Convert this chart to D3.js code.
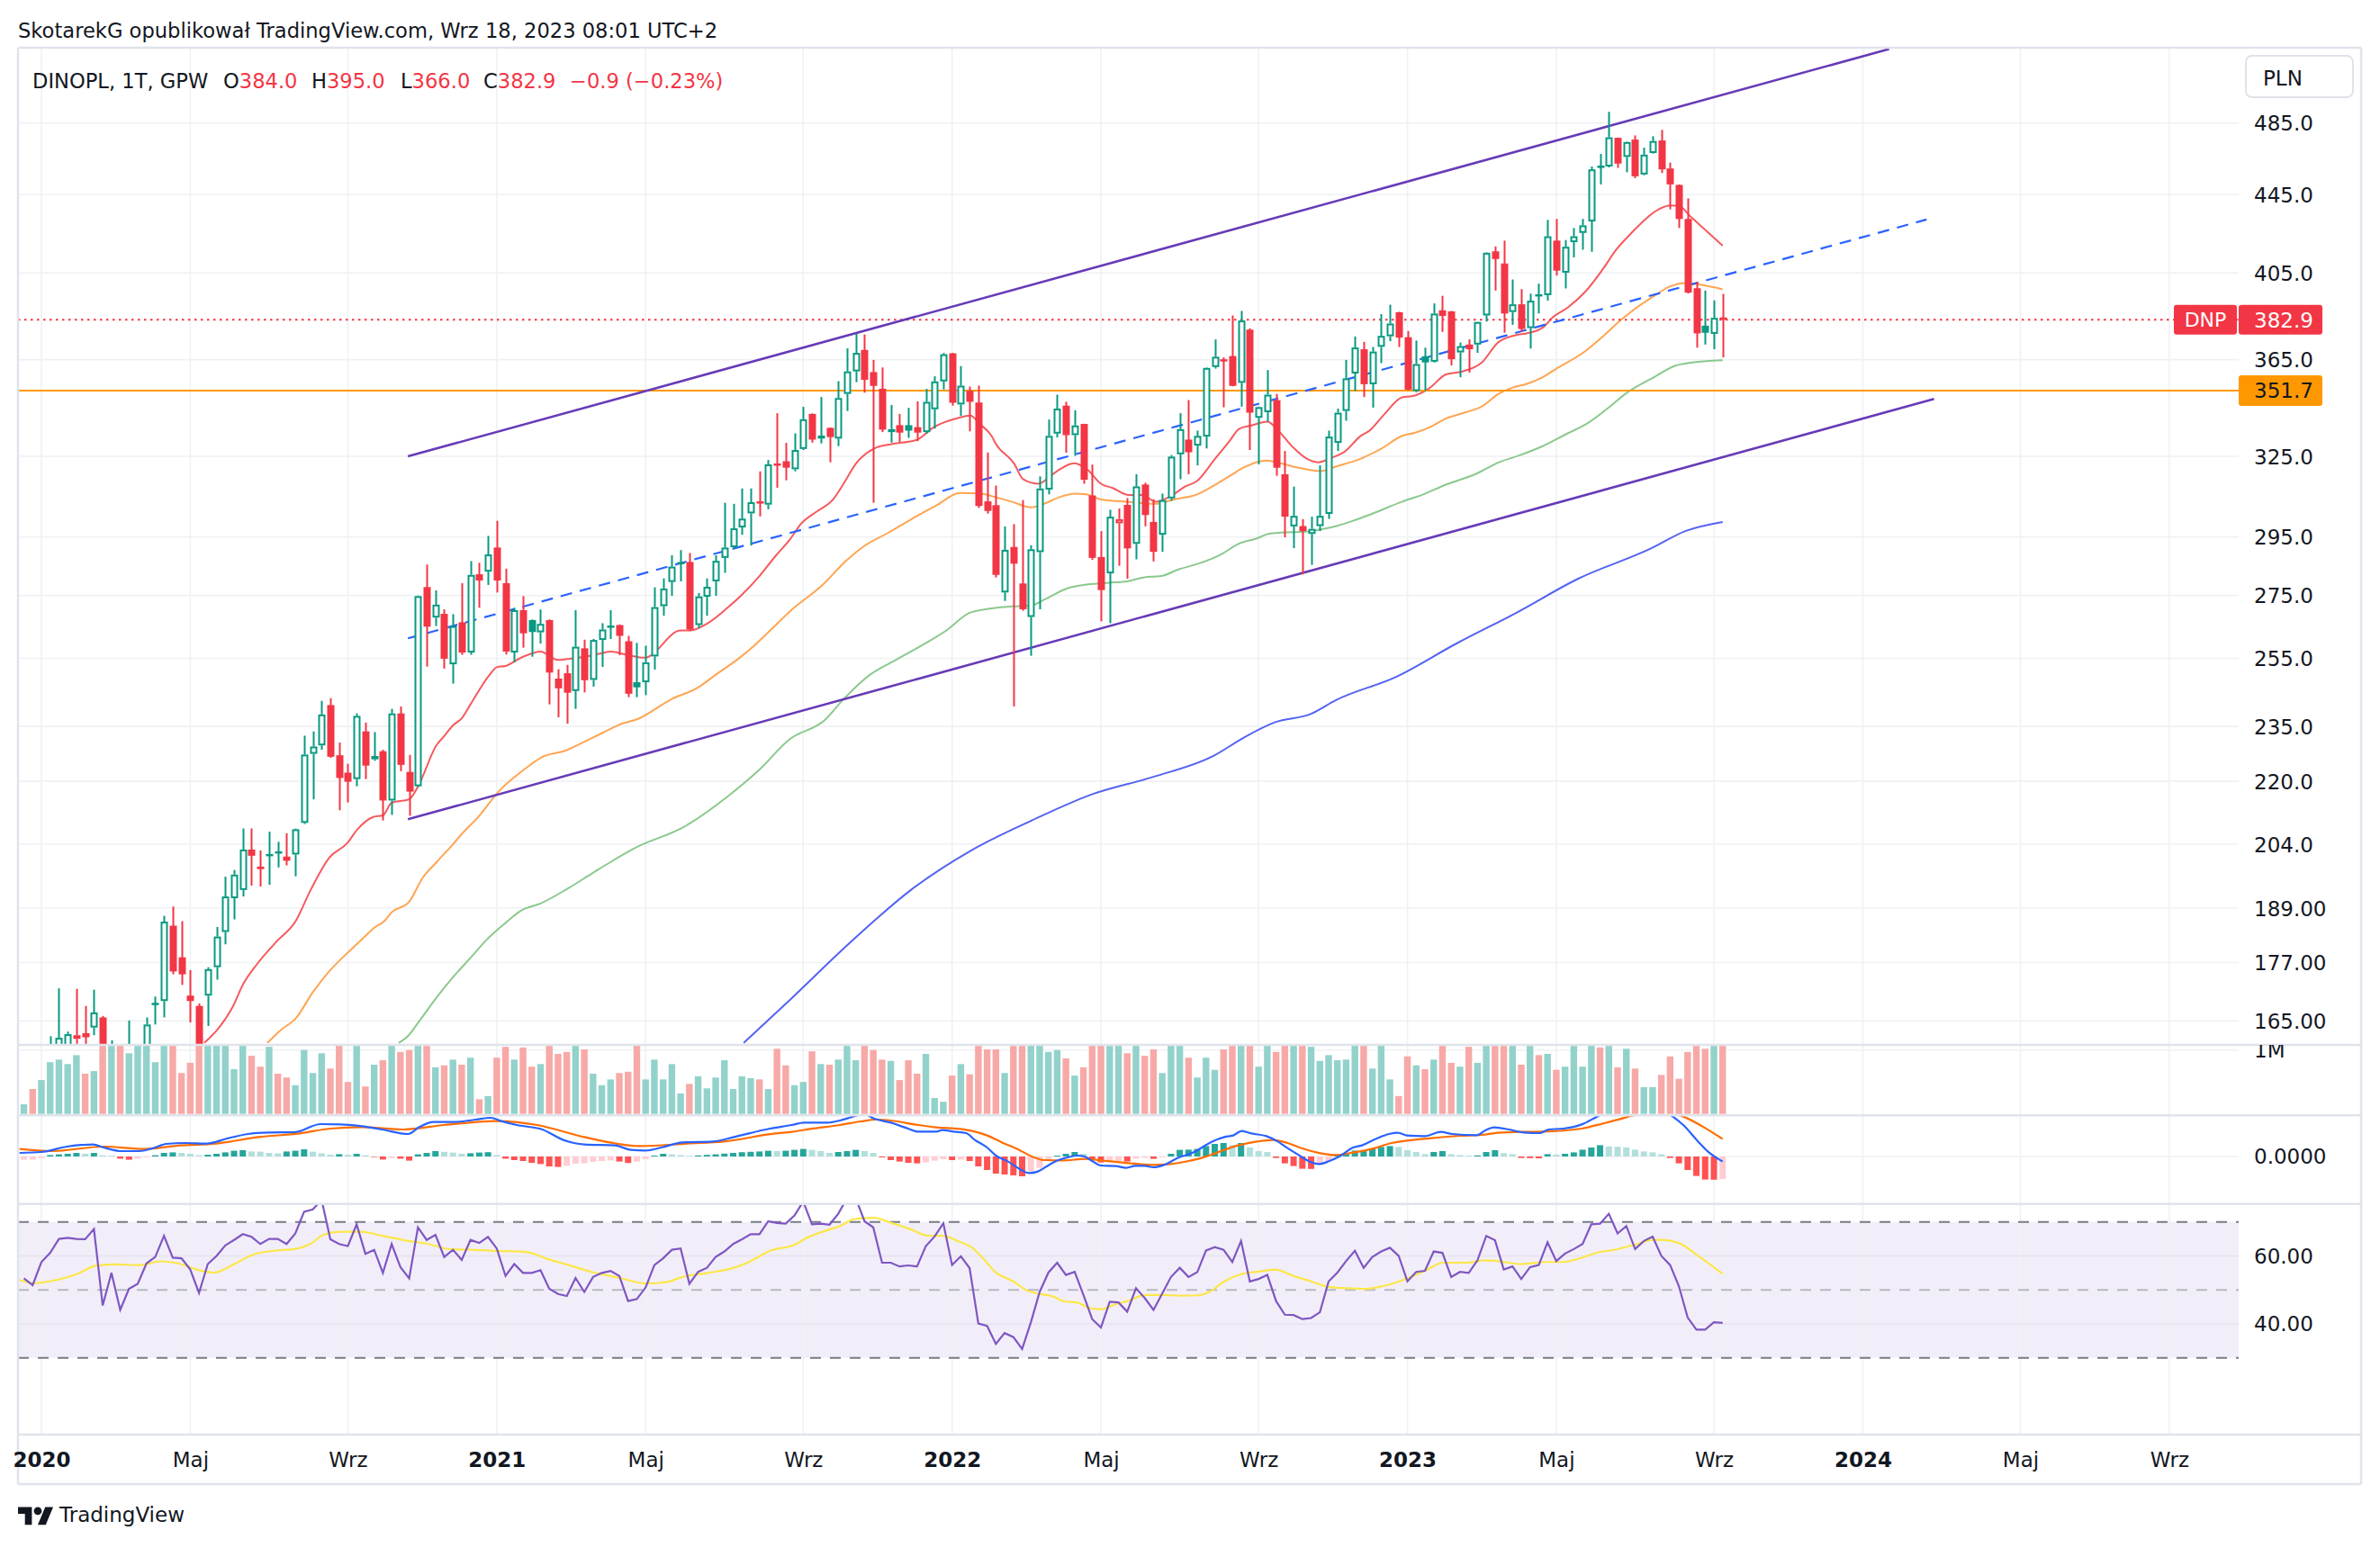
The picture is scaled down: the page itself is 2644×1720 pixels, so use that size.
<!DOCTYPE html>
<html>
<head>
<meta charset="utf-8">
<script src="https://cdn.jsdelivr.net/npm/d3@7"></script>
<style>
  html, body { margin: 0; padding: 0; background: #fff; }
  svg { display: block; font-family: "DejaVu Sans", sans-serif; }
</style>
</head>
<body>
<div id="chart"></div>
<script>
// weekly bars, first bar = week of 2019-12-23 (index -2 relative to 2020-01-06)
const firstBar = -2;

const opens = [146,149,147,153,156,158,161.5,162.6,163.7,165.7,147,155,
  138,155,157,168.2,169.0,185.0,178.1,170.1,168,170.1,
  176.0,183.6,191.2,193.1,202.7,198.6,201.1,202.2,201.0,201.5,
  209.3,227.4,229.7,241.1,227.0,222.3,220.6,233.6,225.9,228.1,
  215.0,238.7,222.5,218.7,277.8,267.8,269.0,253.2,266.3,256.8,
  282.1,283.0,291.3,279.1,256.8,270.2,267.0,263.1,267.0,248.9,
  250.5,245.2,258.1,248.5,260.7,264.6,265.4,260.3,247.8,247.8,
  255.6,271.5,279.5,285.6,286.3,265.4,274.6,279.7,287.7,291.4,
  298.4,303.5,307.8,306.7,322.0,323.1,320.0,327.9,342.0,332.0,
  336.3,332.0,350.3,359.9,369.3,359.6,352.5,334.6,337.4,337.4,
  336.6,334.6,343.9,355.6,367.8,345.9,351.6,346.7,307.9,306.5,
  276.0,291.5,279.0,268.0,289.7,312.3,334.0,345.4,333.4,337.9,
  310.1,288.0,282.4,299.9,306.6,292.6,314.2,300.4,295.8,309.0,
  325.8,331.6,329.2,332.8,361.8,365.0,366.6,355.0,378.4,340.4,
  342.7,347.7,318.1,298.8,298.9,296.1,298.9,303.3,330.3,343.2,
  359.0,369.6,354.4,370.7,375.4,386.4,375.0,351.5,366.5,364.1,
  387.3,386.8,368.2,371.7,371.7,384.9,415.7,409.7,386.5,390.1,
  379.1,394.6,394.4,421.1,405.2,420.3,425.0,430.9,460.8,460.3,
  476.4,465.6,475.4,455.9,467.8,474.9,459.2,450.2,432.2,397.7,
  380.2,376.5,384.0];

const highs = [150,151,155,162,171.6,162.9,171.5,168,171.3,166,161.2,158,
  165.1,160,165.7,169.9,187.2,189.3,186.0,175.4,168.5,176.0,
  184.7,196.2,197.8,207.9,207.9,202.5,207.1,204.6,206.7,207.9,
  232.4,233.6,242.3,243.1,230.5,224.7,238.7,236.1,233.4,228.5,
  240.0,240.7,227.1,275.0,285.4,276.7,270.5,268.9,279.1,286.6,
  286.0,295.4,300.8,284.0,271.0,274.8,267.2,270.4,267.2,251.7,
  253.0,270.2,260.8,261.0,266.0,270.2,265.6,262.0,259.8,258.9,
  277.7,280.7,288.6,290.4,289.4,275.8,280.7,288.6,307.4,307.0,
  312.7,312.7,319.2,323.6,342.3,330.3,334.1,344.9,342.2,349.0,
  336.5,355.7,370.0,376.6,376.2,364.9,361.6,345.7,342.0,344.5,
  347.2,352.4,357.8,368.0,368.0,362.2,353.4,353.8,326.5,313.8,
  298.8,299.6,308.4,292.1,317.3,339.7,350.0,347.0,343.5,338.0,
  321.8,297.1,304.8,305.3,309.1,318.1,314.9,308.7,310.8,325.5,
  342.3,347.7,335.2,361.6,374.0,366.0,384.9,387.0,379.0,345.0,
  360.5,350.3,327.1,313.4,301.4,302.3,321.5,335.2,344.2,364.9,
  375.3,372.9,370.6,385.5,389.9,386.6,377.8,373.5,370.3,390.5,
  394.1,387.0,372.6,374.0,382.0,415.2,418.2,421.1,401.9,397.3,
  395.1,399.9,431.7,432.2,421.4,427.5,432.2,460.3,467.3,491.5,
  476.6,474.3,477.8,470.8,477.3,481.0,462.4,450.5,443.0,400.8,
  396.6,391.9,395.0];

const lows = [144,145,146,151,154,156,159,159,162.2,142,143,130,
  128,148,154,164.3,165.7,174.5,172.3,164.7,157,164.0,
  173.4,180.9,186.4,191.6,194.1,193.9,194.3,198.4,198.9,196.3,
  209.0,215.3,228.5,226.3,212.5,214.5,218.7,220.6,225.5,209.9,
  211.3,222.7,211.1,218.5,252.5,265.1,251.9,247.4,256.1,256.1,
  271.0,278.5,276.0,256.2,253.8,258.3,255.5,259.6,241.3,237.6,
  235.8,240.0,244.8,246.5,252.4,261.0,256.0,243.4,243.4,244.0,
  251.6,268.4,274.9,279.7,263.5,264.5,268.4,274.9,282.6,290.8,
  295.8,292.0,302.4,305.0,313.0,315.8,319.2,327.5,330.4,330.1,
  322.7,329.0,343.2,355.3,350.8,307.4,334.6,330.4,330.6,332.3,
  331.0,334.0,336.0,352.2,345.4,341.2,334.9,305.5,303.4,281.0,
  273.2,240.7,270.0,255.8,270.5,310.5,332.5,326.4,325.2,314.5,
  287.0,266.6,266.0,285.0,280.6,287.2,298.8,286.5,289.8,308.1,
  316.2,318.1,321.5,328.1,361.1,344.7,353.5,345.0,327.5,321.9,
  338.8,317.5,294.9,291.1,282.1,285.3,297.1,301.5,327.1,339.2,
  351.5,349.0,344.6,363.5,373.2,370.6,351.8,351.0,351.5,363.8,
  377.4,362.5,357.4,359.4,368.0,382.1,396.6,377.0,380.6,377.4,
  369.9,385.8,391.8,403.8,397.6,412.7,416.5,415.5,450.5,459.8,
  459.5,457.1,453.9,455.5,467.5,456.7,437.2,427.5,395.2,370.3,
  371.7,369.6,366.0];

const closes = [148,147,153,158,161.7,162.4,162.2,161.8,166.7,147,155,140,
  155,158,164.3,168.6,185.9,175.1,174.5,169.0,158.5,175.6,
  182.6,191.6,196.7,202.7,201.2,198.0,201.6,201.8,200.0,207.7,
  227.2,229.4,238.4,226.6,220.9,219.9,238.0,224.2,226.8,215.0,
  238.7,224.4,217.3,274.8,264.9,272.0,254.9,265.1,256.8,281.9,
  280.0,288.9,280.0,257.1,270.2,262.8,263.2,265.8,250.7,246.0,
  244.7,258.6,248.4,260.7,264.0,265.2,262.0,244.4,246.3,253.8,
  271.2,277.3,284.7,286.2,264.0,274.7,277.9,286.7,291.3,298.1,
  301.6,307.6,307.2,321.9,321.6,320.6,327.5,339.8,331.6,333.2,
  332.6,348.6,359.9,368.0,356.3,353.7,335.6,335.8,334.4,335.2,
  334.4,347.0,355.6,367.4,346.6,353.8,347.0,306.2,304.4,281.9,
  290.5,285.7,270.5,290.7,312.7,333.1,344.2,333.4,337.3,316.0,
  287.7,276.8,302.3,301.4,291.0,313.5,302.9,289.8,308.4,324.9,
  335.8,326.6,333.1,361.4,366.3,364.4,353.7,382.6,342.5,344.8,
  350.0,320.6,302.3,302.6,297.1,297.9,302.6,332.8,342.5,356.9,
  370.4,354.4,368.6,375.6,381.2,374.8,352.1,363.1,363.8,385.8,
  384.7,365.2,371.0,369.6,381.9,415.0,411.9,385.8,390.1,378.7,
  391.8,394.0,423.3,406.2,418.0,423.3,428.9,458.7,459.5,476.7,
  461.9,474.0,454.9,466.9,474.6,458.7,450.5,432.2,395.6,376.7,
  377.0,383.8,382.9];

// volume in millions
const volumes = [0.15,0.39,0.53,0.81,0.85,0.78,0.92,0.63,0.67,1.5,1.4,1.3,
  0.95,1.2,1.15,0.81,1.2,1.1,0.64,0.80,1.3,1.2,
  1.1,1.1,0.70,1.1,0.91,0.74,1.05,0.63,0.57,0.45,
  1.0,0.64,0.95,0.71,1.2,0.50,1.3,0.43,0.77,0.84,
  1.2,0.97,1.0,1.6,1.4,0.73,0.76,0.85,0.77,0.88,
  0.23,0.28,0.88,1.05,0.85,1.04,0.74,0.78,1.2,0.94,
  0.97,1.1,1.01,0.63,0.45,0.54,0.64,0.66,1.1,0.54,
  0.85,0.54,0.78,0.32,0.47,0.59,0.40,0.57,0.84,0.39,
  0.59,0.56,0.54,0.39,1.02,0.76,0.45,0.50,0.98,0.78,
  0.77,0.85,1.2,0.84,1.2,1.0,0.85,0.83,0.53,0.84,
  0.63,0.94,0.25,0.19,0.60,0.78,0.62,1.4,1.01,1.01,
  0.64,1.3,1.2,1.2,1.1,0.97,1.0,0.87,0.60,0.73,
  1.2,1.1,1.2,1.1,0.95,1.1,0.91,1.01,0.64,1.1,
  1.1,0.88,0.57,0.88,0.69,1.01,1.1,1.2,1.3,0.74,
  1.1,0.97,1.1,1.1,1.1,1.05,0.83,0.92,0.84,0.85,
  1.1,1.1,0.71,1.1,0.54,0.28,0.90,0.76,0.70,0.85,
  1.1,0.80,0.74,1.05,0.80,1.2,1.1,1.1,1.1,0.77,
  1.1,0.92,0.94,0.69,0.74,1.1,0.74,1.3,1.04,1.2,
  0.73,1.02,0.71,0.42,0.42,0.61,0.90,0.55,0.97,1.1,
  1.02,1.1,1.1];

const macdHist = [-1.8,-1.8,-0.8,0.8,1.2,1.5,2.0,1.5,2.0,0.7,0.5,-1.2,
  -1.8,-1.2,-0.4,0.7,2.0,2.3,2.0,1.5,0.7,1.0,
  1.5,2.3,3.2,3.5,2.8,2.7,2.0,1.7,2.8,3.2,
  4.0,2.7,1.8,1.0,1.3,1.0,1.5,0.7,-0.3,-1.7,
  -0.8,-1.2,-2.3,1.2,2.0,3.0,2.6,2.2,1.5,1.8,
  2.2,2.4,0.8,-1.2,-2.0,-2.5,-3.5,-4.2,-5.5,-5.8,
  -5.2,-4.0,-3.8,-3.0,-2.5,-2.2,-2.8,-3.6,-2.8,-1.5,
  0.5,1.5,1.2,0.8,0.4,0.6,0.9,1.2,1.6,2.0,
  2.4,2.6,2.8,3.2,3.0,3.2,3.7,4.2,3.7,3.0,
  2.0,2.5,3.0,3.7,3.0,2.0,-0.5,-2.0,-2.8,-3.5,
  -3.8,-3.3,-2.3,-1.5,-2.0,-1.8,-2.5,-5.5,-7.5,-9.5,
  -10.0,-10.5,-11.0,-8.3,-6.3,-2.5,0.5,1.5,2.5,1.5,
  -1.8,-3.3,-2.5,-2.5,-2.8,-1.2,-0.8,-1.3,-0.5,1.5,
  3.7,3.8,4.2,5.8,7.0,7.5,6.3,7.5,5.0,3.0,
  2.5,-0.8,-3.8,-5.3,-6.8,-6.9,-4.5,-2.5,0.8,1.7,
  3.3,3.5,4.5,5.3,5.8,5.3,3.5,2.5,1.3,2.5,
  3.0,1.3,0.8,0.5,0.6,2.5,3.5,1.8,1.3,-0.8,
  -0.9,-1.0,1.3,1.0,1.5,2.3,3.8,5.0,6.3,5.6,
  5.4,5.0,3.8,2.8,2.3,1.2,-0.8,-3.8,-7.5,-10.8,
  -12.8,-12.9,-12.5];

const rsiValues = [53.4,51.4,58.2,60.9,65.0,65.3,65.0,64.9,67.9,45.4,55.0,44.1,
  50.3,51.8,57.8,59.7,65.9,59.5,59.3,56.0,49.1,57.6,
  60.0,63.1,64.7,66.4,65.6,63.5,65.0,65.0,63.5,66.6,
  73.0,73.7,76.5,64.9,63.5,62.9,69.3,60.6,61.8,55.0,
  63.5,56.7,53.4,68.4,64.7,66.2,59.7,61.8,58.8,64.7,
  63.8,65.6,62.2,54.1,57.6,55.0,55.0,55.8,50.3,48.8,
  48.2,53.5,49.4,53.8,55.0,55.6,54.1,46.7,47.3,50.7,
  57.3,59.3,61.8,62.2,51.8,55.3,56.5,59.7,61.3,63.5,
  64.9,66.4,66.4,70.2,69.7,69.5,71.9,76.0,69.3,69.5,
  69.2,72.4,77.0,77.0,70.2,68.4,58.0,58.0,56.9,57.2,
  56.9,62.9,65.7,69.6,57.3,59.9,56.4,40.1,39.4,34.1,
  37.3,36.1,32.6,40.5,49.4,55.1,58.0,54.4,55.3,48.5,
  41.4,38.9,46.5,46.3,43.6,50.5,47.6,44.1,48.9,53.8,
  56.5,53.8,55.2,61.6,62.6,61.8,58.2,64.4,52.5,53.2,
  54.4,46.7,42.7,42.6,41.4,41.7,43.4,52.5,55.1,58.5,
  61.5,56.5,59.7,61.3,62.4,60.0,52.5,55.3,55.6,61.3,
  60.9,53.8,55.3,55.0,58.7,65.9,64.6,56.0,56.9,53.2,
  56.7,57.3,64.0,58.5,60.7,62.0,63.5,69.3,69.5,72.4,
  66.6,68.8,62.0,64.4,65.7,60.0,57.3,51.1,41.9,38.3,
  38.3,40.5,40.3];

// lines read as [week index from 2020-01-06, value]
const macdLine = [[-2.5,2.0],[0,2.5],[2.9,5.5],[5.9,6.7],[7.1,5.0],[9.1,3.0],[11.2,3.0],[13,5.0],[14.2,7.0],[16.5,7.5],[18.9,7.2],[21.2,10.0],[23.6,12.5],[25.9,13.3],[28.9,13.5],[31.9,18.0],[34.2,17.8],[36,17.2],[38.9,15.0],[41.9,12.5],[43.1,16.2],[44.8,19.2],[47.2,19.2],[49.6,20.5],[51.3,21.5],[52.5,19.7],[54.3,17.5],[57.2,15.0],[59.6,9.2],[62,6.7],[65.5,6.2],[67.3,3.7],[69,3.3],[70.8,5.0],[73.2,7.8],[76.7,8.3],[79.1,10.8],[83.2,15.5],[85.7,17.5],[87.1,18.8],[89.8,18.8],[91.2,20.0],[92.6,22.0],[94.0,23.5],[95,21.2],[97,18.8],[98.8,15.8],[100.1,13.8],[102.2,13.8],[102.9,14.7],[104.2,13.8],[105.6,13.0],[106.6,9.2],[108,5.0],[109,0.5],[110.4,-2.8],[111.8,-7.2],[112.8,-9.2],[113.8,-8.3],[114.8,-5.5],[115.9,-2.5],[117.2,-0.5],[118.3,0.5],[119.1,0],[120,-2.5],[121,-5.0],[122.7,-5.3],[123.9,-6.3],[124.9,-5.2],[126,-5.2],[127,-6.0],[128.2,-4.7],[129.9,-0.5],[131.3,1.7],[132.2,4.0],[133.7,8.3],[135.1,10.8],[136.1,11.7],[137.1,14.2],[138.2,12.8],[139.9,11.3],[141.2,8.3],[142.3,4.7],[143.6,0.8],[144.7,-2.5],[145.9,-4.2],[147.1,-2.5],[148.4,0.5],[149.8,5.0],[150.8,6.2],[152.5,10.0],[153.9,12.5],[154.9,13.2],[155.9,11.7],[158,11.3],[159.8,13.7],[161.1,12.5],[163.9,11.8],[164.9,14.5],[165.9,16.2],[167.6,15.0],[169.3,13.3],[171.1,13.0],[172.1,15.0],[173.8,15.5],[175.9,17.8],[177.6,22.0],[179,25.5],[181,28],[183,28.5],[185,26],[186.3,22.2],[187.5,17.5],[189.2,8.3],[190.3,2.8],[192,-2.8]];

const signalLine = [[-2.5,4.2],[1.2,3.0],[7.1,5.5],[11.8,4.2],[15.9,6.2],[20,7.2],[24.8,10.8],[29.5,12.8],[33,15.5],[36.6,16.3],[41.3,15.0],[46,17.5],[51.9,19.7],[56.6,17.5],[62,10.8],[68.4,5.8],[73.8,7.2],[77.9,8.3],[83.8,12.8],[85.7,13.7],[87.8,15.3],[91.2,17.5],[93.6,19.5],[95.3,20.5],[97,20.0],[100.1,17.5],[102.2,16.2],[104.9,15.3],[106.3,14.2],[108,11.7],[109.7,7.8],[111.8,3.3],[113.1,0],[114.5,-2.0],[116.6,-2.2],[119.3,-1.3],[121,-2.2],[123.4,-3.3],[126.8,-4.7],[128.9,-4.2],[131,-2.5],[132.5,-0.8],[134,1.7],[136.4,5.8],[138.8,8.3],[140.6,9.2],[142.3,7.5],[144,4.5],[145.7,2.2],[147.7,0.8],[149.8,2.2],[151.9,4.2],[154.2,7.5],[156.6,9.2],[159.4,10.5],[162.1,11.5],[164.5,12.0],[166.3,13.2],[169,13.7],[171.4,13.8],[175.9,15.5],[178.3,18.3],[180.3,20.8],[181.5,22.5],[183.5,24.5],[185.5,24.5],[187.5,22.2],[189.7,16.7],[192,9.7]];

const rsiMa = [[-2.5,52.9],[-0.9,52.0],[1.7,52.9],[4.1,54.7],[6.2,57.1],[8.3,57.5],[11.2,57.3],[13.6,58.4],[15.6,57.8],[18,55.8],[19.8,55.1],[21.8,57.3],[24.2,60.4],[26.5,61.5],[28.9,62.0],[30.7,63.5],[32.2,66.2],[34.2,67.1],[36.6,67.1],[38.9,65.9],[41.9,64.4],[44.2,63.5],[46.6,62.0],[49,61.8],[51.9,61.5],[55.5,61.1],[57.8,59.1],[60.2,57.3],[63.1,55.1],[66.1,53.5],[69,51.9],[71.4,52.3],[73.2,53.8],[76.1,55.0],[79.1,56.5],[80.8,58.2],[83.2,61.5],[86.2,63.5],[87.1,64.9],[89.2,67.1],[91.2,68.8],[92.9,70.9],[95,71.2],[97.1,69.7],[99.4,67.7],[101.1,66.0],[102.9,65.9],[104.9,64.1],[106.3,62.4],[107.6,59.1],[109,55.1],[111,52.5],[112.4,50.0],[113.8,48.9],[115.5,48.1],[116.8,46.6],[118.2,46.3],[119.9,44.5],[121,44.3],[122.7,45.8],[124,46.7],[126.1,48.5],[128.1,48.5],[130.2,48.3],[132,48.4],[133.4,49.4],[135.1,52.5],[137.1,54.7],[138.8,55.3],[140.9,56.0],[142.9,54.2],[145,52.5],[147,50.9],[149.1,50.5],[151.2,50.3],[153.2,51.1],[155.3,52.7],[158,55.6],[160.1,58.0],[162.8,58.0],[164.9,58.7],[166.2,58.5],[169,57.6],[171.7,58.2],[173.8,58.2],[175.8,59.4],[177.9,61.1],[179.9,61.9],[181.3,62.9],[182,63.3],[184,64.7],[185,64.7],[187,63.8],[189.2,60.0],[192,54.7]];

// moving averages on price
const maRed = [[18.6,160.7],[20.3,163.7],[21.9,168.0],[23.0,172.3],[24.6,176.6],[26.9,181.6],[29.0,185.9],[30.8,193.3],[32.9,200.8],[34.9,204.2],[36.1,207.7],[37.9,210.8],[39.0,211.2],[40.0,214.4],[42,215.3],[43,218.6],[45.1,229.7],[46,232.3],[47,235.3],[48,237.3],[49,241.3],[51.1,249.7],[52,252.3],[53,252.7],[55,255.5],[57,257.1],[59,254.5],[60,254.8],[62,255.5],[64,256.6],[65,257.1],[67,256.0],[68.9,255.2],[73,263.7],[74.1,263.7],[76.1,266.0],[78.2,270.6],[79.9,275.0],[82,281.5],[83.9,288.6],[85.4,293.8],[86.8,299.9],[88.6,304.3],[90.3,308.2],[91.7,315.0],[93,322.1],[95.1,328.1],[97.2,329.9],[99.9,331.4],[102,336.8],[103.2,338.7],[104.5,340.1],[106.1,341.3],[107.1,338.1],[108.5,333.1],[109,329.9],[111.1,322.1],[112.1,316.2],[113.8,314.5],[115.9,319.1],[117.9,322.3],[119.3,320.3],[121,314.5],[122.4,312.8],[124.1,310.3],[125.8,310.3],[127.2,307.8],[128.9,309.7],[130.6,313.4],[132,315.6],[134,323.9],[135.7,331.1],[136.8,336.0],[138.1,337.2],[140,338.8],[141.2,335.4],[142.9,328.7],[144.6,323.9],[145.8,322.7],[147.4,324.5],[148.9,327.0],[150.6,332.9],[151.7,335.3],[153.4,342.0],[155.4,348.9],[156.5,349.3],[158.5,352.7],[160.4,358.6],[162.3,359.9],[164.5,363.8],[166.4,372.8],[168.6,376.1],[169.5,376.6],[171.5,379.5],[172.6,384.1],[174.3,388.6],[176.3,396.0],[178.4,407.4],[179.8,416.3],[181.5,424.6],[184.6,437.0],[186,439.3],[187,439.0],[188.4,433.1],[190.5,424.6],[192,418.5]];

const maOrange = [[25.8,160.7],[27.4,163.3],[29,165.4],[31,170.8],[32.9,175.2],[34.7,178.6],[36.6,182.0],[38.2,184.8],[39.1,185.9],[40,188.0],[42,190.4],[43.5,195.8],[45.1,199.6],[47,204.0],[48,206.5],[49.9,210.8],[52.2,217.3],[55,222.9],[57,226.3],[60,228.4],[62,230.7],[64.1,233.2],[65.9,235.4],[68.2,237.2],[72,242.9],[74.9,246.1],[77.2,250.4],[79.6,254.9],[81.3,258.7],[83,263.1],[85.8,270.6],[89.2,278.5],[91.9,286.7],[94,291.9],[96.7,296.5],[99.4,301.5],[102.2,306.4],[104.9,311.0],[107.3,310.8],[109,309.4],[110.8,307.8],[113,305.7],[114.5,307.0],[116.2,309.4],[118,310.8],[119.3,310.5],[121,308.6],[123.8,307.8],[127.2,307.0],[129.3,308.6],[132,310.5],[134.1,314.2],[135.8,317.6],[137.2,320.5],[139.9,323.4],[141.6,322.2],[143.7,320.5],[146.1,319.3],[147.8,321.0],[150.6,324.0],[153,328.0],[155.4,333.1],[156.8,334.3],[158.5,336.5],[160.4,340.1],[162.6,342.6],[164.5,345.1],[166.4,350.3],[168.1,353.1],[169.5,354.4],[171.5,357.5],[172.9,360.8],[176.3,368.7],[178.4,375.6],[180.4,382.9],[181.5,386.5],[184.2,394.1],[185.9,398.4],[187.7,400.2],[189.4,399.4],[192,397.2]];

const maGreen = [[40.8,160.7],[41.9,162.1],[43,164.6],[45.3,170.1],[47.1,174.1],[49.1,178.2],[50.9,182.0],[53,185.6],[54.8,188.4],[57,190.0],[60,193.3],[62.9,197.0],[65,199.7],[68,203.3],[73.3,208.2],[78.4,216.1],[81.9,222.9],[85.4,231.3],[89.5,236.9],[91.6,242.8],[94.6,250.0],[97.7,254.7],[100.8,259.4],[103.5,264.0],[105.9,269.2],[108.3,270.7],[110.8,271.4],[113,271.7],[114.5,273.6],[117.3,277.5],[119,278.5],[121.7,279.2],[124.1,279.8],[125.8,281.0],[127.9,281.5],[129.9,283.8],[132,285.6],[134.7,288.9],[136.8,292.7],[138.8,294.5],[140.2,296.2],[141.6,296.6],[144.3,296.9],[146.1,297.7],[148.1,299.1],[149.5,300.5],[152,303.4],[155.4,307.8],[157.8,310.5],[160.2,313.9],[164,318.5],[166.4,322.6],[168.8,325.4],[171.5,329.1],[174.3,334.1],[176.3,337.6],[178.7,343.8],[181.1,350.9],[184.2,357.5],[186.6,362.4],[188.3,363.7],[192,364.8]];

const maBlue = [[80.2,160.7],[85.4,169.1],[92.3,181.2],[99.3,193.1],[106.2,202.5],[113.1,209.9],[120.1,216.7],[127,221.2],[133.9,226.9],[137.4,232.0],[140.9,236.2],[145,238.6],[147.8,242.5],[154.7,249.4],[161.6,259.6],[168.6,269.6],[175.5,280.6],[183.7,290.8],[187.8,297.2],[192,300.4]];

// drawings
const channelLines = [
  { from: "2020-10-25", p1: 325.0, to: "2024-01-22", p2: 530.0, color: "#673ab7", dash: null },
  { from: "2020-10-25", p1: 210.2, to: "2024-02-27", p2: 348.2, color: "#673ab7", dash: null },
  { from: "2020-10-25", p1: 261.2, to: "2024-02-21", p2: 431.9, color: "#2962ff", dash: "13,9" }
];
const supportLevel = 351.7;
const lastPrice = 382.9;

const priceTicks = [485, 445, 405, 365, 325, 295, 275, 255, 235, 220, 204, 189, 177, 165];
const priceTickLabels = ["485.0","445.0","405.0","365.0","325.0","295.0","275.0","255.0","235.0","220.0","204.0","189.00","177.00","165.00"];
const timeTicks = ["2020-01-06","2020-05-04","2020-09-07","2021-01-04","2021-05-03","2021-09-06","2022-01-03","2022-05-02","2022-09-05","2023-01-02","2023-05-01","2023-09-04","2024-01-01","2024-05-06","2024-09-02"];
const timeTickLabels = ["2020","Maj","Wrz","2021","Maj","Wrz","2022","Maj","Wrz","2023","Maj","Wrz","2024","Maj","Wrz"];

// ---- layout
const W = 2644, H = 1720;
const left = 20, right = 2487, frameRight = 2623;
const paneTop = 53, priceBottom = 1161, volBottom = 1239.3, macdBottom = 1337.7, rsiBottom = 1594, axisBottom = 1649;
const axisTextX = 2504;
const UP = "#089981", DOWN = "#f23645", INK = "#131722", GRID = "#f0f1f4", SEP = "#e0e3eb";

const WEEK0 = Date.UTC(2020, 0, 6), DAY = 864e5;
const weekDate = i => new Date(WEEK0 + i * 7 * DAY);
const parse = d3.utcParse("%Y-%m-%d");

const x = d3.scaleUtc().domain([new Date(WEEK0), new Date(Date.UTC(2024, 0, 1))]).range([46, 2069.4]);
const y = d3.scaleLog().domain([165, 485]).range([1134.4, 136.6]);
const yVol = d3.scaleLinear().domain([0, 1]).range([1237.7, 1166.7]);
const yMacd = d3.scaleLinear().domain([0, 10]).range([1285, 1265]);
const yRsi = d3.scaleLinear().domain([30, 70]).range([1508.7, 1357.7]);

const bars = opens.map((o, k) => ({
  i: k + firstBar, date: weekDate(k + firstBar), o, h: highs[k], l: lows[k], c: closes[k],
  v: volumes[k], hist: macdHist[k], rsi: rsiValues[k]
}));

const svg = d3.select("#chart").append("svg")
  .attr("width", W).attr("height", H).attr("viewBox", `0 0 ${W} ${H}`);
svg.append("rect").attr("width", W).attr("height", H).attr("fill", "#fff");

const defs = svg.append("defs");
function clip(id, y0, y1, x0 = left, x1 = right) {
  defs.append("clipPath").attr("id", id).append("rect")
    .attr("x", x0).attr("y", y0).attr("width", x1 - x0).attr("height", y1 - y0);
  return `url(#${id})`;
}

// header
svg.append("text").attr("x", 20).attr("y", 42).attr("font-size", 22.6).attr("fill", INK)
  .text("SkotarekG opublikował TradingView.com, Wrz 18, 2023 08:01 UTC+2");

// RSI band
svg.append("rect").attr("x", left).attr("width", right - left)
  .attr("y", yRsi(70)).attr("height", yRsi(30) - yRsi(70))
  .attr("fill", "#7e57c2").attr("fill-opacity", 0.1);

// grid
const grid = svg.append("g").attr("stroke", GRID).attr("stroke-width", 1.6);
grid.selectAll("line.v").data(timeTicks).join("line")
  .attr("x1", d => x(parse(d))).attr("x2", d => x(parse(d)))
  .attr("y1", paneTop).attr("y2", rsiBottom);
grid.selectAll("line.h").data(priceTicks).join("line")
  .attr("x1", left).attr("x2", right).attr("y1", d => y(d)).attr("y2", d => y(d));
grid.append("line").attr("x1", left).attr("x2", right).attr("y1", yVol(1)).attr("y2", yVol(1));
grid.append("line").attr("x1", left).attr("x2", right).attr("y1", yMacd(0)).attr("y2", yMacd(0));
[60, 40].forEach(v => grid.append("line").attr("x1", left).attr("x2", right)
  .attr("y1", yRsi(v)).attr("y2", yRsi(v)).attr("stroke", "#e6e3ee"));

// RSI band lines
[[70, "#787b86"], [50, "#b6b8c0"], [30, "#787b86"]].forEach(([v, c]) => {
  svg.append("line").attr("x1", left).attr("x2", right).attr("y1", yRsi(v)).attr("y2", yRsi(v))
    .attr("stroke", c).attr("stroke-width", 2).attr("stroke-dasharray", "12,10");
});

// ---- price pane
const priceG = svg.append("g").attr("clip-path", clip("clipPrice", paneTop, priceBottom));
const lineOf = (ys, curve) => d3.line().x(d => x(weekDate(d[0]))).y(d => ys(d[1])).curve(curve || d3.curveLinear);

[[maBlue, "#5363f2"], [maGreen, "#8bc98d"], [maOrange, "#ffa552"], [maRed, "#f55a5e"]].forEach(([data, c]) => {
  priceG.append("path").attr("d", lineOf(y, d3.curveMonotoneX)(data))
    .attr("fill", "none").attr("stroke", c).attr("stroke-width", 2);
});

// horizontal support line and last price line
priceG.append("line").attr("x1", left).attr("x2", right).attr("y1", y(supportLevel)).attr("y2", y(supportLevel))
  .attr("stroke", "#ff9800").attr("stroke-width", 2);
priceG.append("line").attr("x1", left).attr("x2", right).attr("y1", y(lastPrice)).attr("y2", y(lastPrice))
  .attr("stroke", DOWN).attr("stroke-width", 2).attr("stroke-dasharray", "2.5,4.5");

// channel drawings
channelLines.forEach(t => {
  priceG.append("line")
    .attr("x1", x(parse(t.from))).attr("y1", y(t.p1))
    .attr("x2", x(parse(t.to))).attr("y2", y(t.p2))
    .attr("stroke", t.color).attr("stroke-width", t.dash ? 2.2 : 2.6)
    .attr("stroke-dasharray", t.dash);
});

// candles
const candles = priceG.selectAll("g.candle").data(bars).join("g").attr("class", "candle");
candles.each(function (d, k) {
  const g = d3.select(this);
  const prev = k > 0 ? bars[k - 1].c : d.o;
  const col = d.c >= prev ? UP : DOWN;
  const cx = Math.round(x(d.date)) + 0.5;
  const top = y(Math.max(d.o, d.c)), bot = y(Math.min(d.o, d.c));
  const hollow = d.c > d.o && bot - top > 3;
  if (hollow) {
    g.append("line").attr("x1", cx).attr("x2", cx).attr("y1", y(d.h)).attr("y2", top)
      .attr("stroke", col).attr("stroke-width", 2);
    g.append("line").attr("x1", cx).attr("x2", cx).attr("y1", bot).attr("y2", y(d.l))
      .attr("stroke", col).attr("stroke-width", 2);
    g.append("rect").attr("x", cx - 3).attr("y", top + 1).attr("width", 6).attr("height", bot - top - 2)
      .attr("fill", "#fff").attr("stroke", col).attr("stroke-width", 2);
  } else {
    g.append("line").attr("x1", cx).attr("x2", cx).attr("y1", y(d.h)).attr("y2", y(d.l))
      .attr("stroke", col).attr("stroke-width", 2);
    const hgt = Math.max(bot - top, 2.5);
    g.append("rect").attr("x", cx - 4).attr("y", (top + bot) / 2 - hgt / 2).attr("width", 8).attr("height", hgt)
      .attr("fill", col);
  }
});

// legend
const legend = svg.append("text").attr("y", 98).attr("font-size", 22.6).attr("fill", INK);
legend.append("tspan").attr("x", 36).text("DINOPL, 1T, GPW");
[["O", 248, "384.0"], ["H", 346, "395.0"], ["L", 445, "366.0"], ["C", 537, "382.9"]].forEach(([k, px, v]) => {
  legend.append("tspan").attr("x", px).text(k);
  legend.append("tspan").attr("fill", DOWN).text(v);
});
legend.append("tspan").attr("x", 633).attr("fill", DOWN).text("\u22120.9 (\u22120.23%)");

// ---- volume pane
const volG = svg.append("g").attr("clip-path", clip("clipVol", priceBottom, volBottom));
volG.selectAll("rect").data(bars).join("rect")
  .attr("x", d => x(d.date) - 3.7).attr("width", 7.4)
  .attr("y", d => yVol(d.v)).attr("height", d => yVol(0) - yVol(d.v))
  .attr("fill", d => d.c >= d.o ? "#92d2cb" : "#f7a9a7");

// ---- MACD pane
const macdG = svg.append("g").attr("clip-path", clip("clipMacd", volBottom, macdBottom));
macdG.selectAll("rect").data(bars).join("rect")
  .attr("x", d => x(d.date) - 3.5).attr("width", 7)
  .attr("y", d => Math.min(yMacd(d.hist), yMacd(0)))
  .attr("height", d => Math.abs(yMacd(d.hist) - yMacd(0)))
  .attr("fill", (d, k) => {
    const p = k > 0 ? bars[k - 1].hist : d.hist;
    if (d.hist >= 0) return d.hist > p ? "#26a69a" : "#b2dfdb";
    return d.hist < p ? "#ff5252" : "#ffcdd2";
  });
macdG.append("path").attr("d", lineOf(yMacd, d3.curveMonotoneX)(signalLine))
  .attr("fill", "none").attr("stroke", "#ff6d00").attr("stroke-width", 2.2);
macdG.append("path").attr("d", lineOf(yMacd, d3.curveMonotoneX)(macdLine))
  .attr("fill", "none").attr("stroke", "#2962ff").attr("stroke-width", 2.2);

// ---- RSI pane
const rsiG = svg.append("g").attr("clip-path", clip("clipRsi", macdBottom, rsiBottom));
rsiG.append("path").attr("d", lineOf(yRsi, d3.curveMonotoneX)(rsiMa))
  .attr("fill", "none").attr("stroke", "#fbe74a").attr("stroke-width", 2.2);
rsiG.append("path").attr("d", d3.line().x(d => x(d.date)).y(d => yRsi(d.rsi))(bars))
  .attr("fill", "none").attr("stroke", "#7e57c2").attr("stroke-width", 2.2);

// ---- frame and separators
const frame = svg.append("g").attr("stroke", SEP).attr("stroke-width", 2.5);
frame.append("line").attr("x1", left).attr("x2", frameRight).attr("y1", paneTop).attr("y2", paneTop);
frame.append("line").attr("x1", left).attr("x2", left).attr("y1", paneTop).attr("y2", axisBottom);
frame.append("line").attr("x1", frameRight).attr("x2", frameRight).attr("y1", paneTop).attr("y2", axisBottom);
[priceBottom, volBottom, macdBottom, rsiBottom, axisBottom].forEach(v =>
  frame.append("line").attr("x1", left).attr("x2", frameRight).attr("y1", v).attr("y2", v));

// ---- price axis
const pAxis = svg.append("g").attr("transform", `translate(${axisTextX},0)`)
  .call(d3.axisRight(y).tickValues(priceTicks).tickFormat((d, i) => priceTickLabels[i]).tickSize(0).tickPadding(0));
pAxis.select(".domain").remove();
pAxis.selectAll("text").attr("font-size", 23).attr("font-family", "DejaVu Sans").attr("fill", INK).attr("dy", "0.36em");

// PLN box
svg.append("rect").attr("x", 2495).attr("y", 62).attr("width", 119).attr("height", 46).attr("rx", 7)
  .attr("fill", "#fff").attr("stroke", SEP).attr("stroke-width", 2);
svg.append("text").attr("x", 2514).attr("y", 87).attr("dy", "0.36em").attr("font-size", 23).attr("fill", INK).text("PLN");

// small axis labels for sub panes
const axLbl = svg.append("g").attr("clip-path", clip("clipAxis", priceBottom, rsiBottom, right, frameRight))
  .attr("font-size", 23).attr("fill", INK);
axLbl.append("text").attr("x", axisTextX).attr("y", yVol(1)).attr("dy", "0.36em").text("1M");
axLbl.append("text").attr("x", axisTextX).attr("y", yMacd(0)).attr("dy", "0.36em").text("0.0000");
axLbl.append("text").attr("x", axisTextX).attr("y", yRsi(60)).attr("dy", "0.36em").text("60.00");
axLbl.append("text").attr("x", axisTextX).attr("y", yRsi(40)).attr("dy", "0.36em").text("40.00");

// last price tag
const tagY = y(lastPrice);
svg.append("rect").attr("x", 2415).attr("y", tagY - 16.5).attr("width", 70).attr("height", 33).attr("rx", 3).attr("fill", DOWN);
svg.append("rect").attr("x", 2487).attr("y", tagY - 16.5).attr("width", 93).attr("height", 33).attr("rx", 3).attr("fill", DOWN);
svg.append("text").attr("x", 2450).attr("y", tagY).attr("dy", "0.36em").attr("text-anchor", "middle")
  .attr("font-size", 22).attr("fill", "#fff").text("DNP");
svg.append("text").attr("x", axisTextX).attr("y", tagY).attr("dy", "0.36em")
  .attr("font-size", 23).attr("fill", "#fff").text(lastPrice.toFixed(1));
// support tag
const supY = y(supportLevel);
svg.append("rect").attr("x", 2487).attr("y", supY - 17).attr("width", 93).attr("height", 34).attr("rx", 3).attr("fill", "#ff9800");
svg.append("text").attr("x", axisTextX).attr("y", supY).attr("dy", "0.36em")
  .attr("font-size", 23).attr("fill", INK).text(supportLevel.toFixed(1));

// ---- time axis
const tAxis = svg.append("g").attr("transform", `translate(0,${1614})`)
  .call(d3.axisBottom(x).tickValues(timeTicks.map(parse)).tickFormat((d, i) => timeTickLabels[i]).tickSize(0).tickPadding(0));
tAxis.select(".domain").remove();
tAxis.selectAll("text").attr("font-size", 23).attr("font-family", "DejaVu Sans").attr("fill", INK)
  .attr("font-weight", (d, i) => /^\d/.test(timeTickLabels[i]) ? "bold" : "normal");

// ---- footer logo
const logo = svg.append("g").attr("transform", "translate(20,1670) scale(1.1)").attr("fill", INK);
logo.append("path").attr("d", "M14 22H7V11H0V4h14v18zM28 22h-8l7.5-18h8L28 22z");
logo.append("circle").attr("cx", 20).attr("cy", 8).attr("r", 4);
svg.append("text").attr("x", 66).attr("y", 1683).attr("dy", "0.36em").attr("font-size", 23)
  .attr("fill", INK).text("TradingView");
</script>
</body>
</html>
